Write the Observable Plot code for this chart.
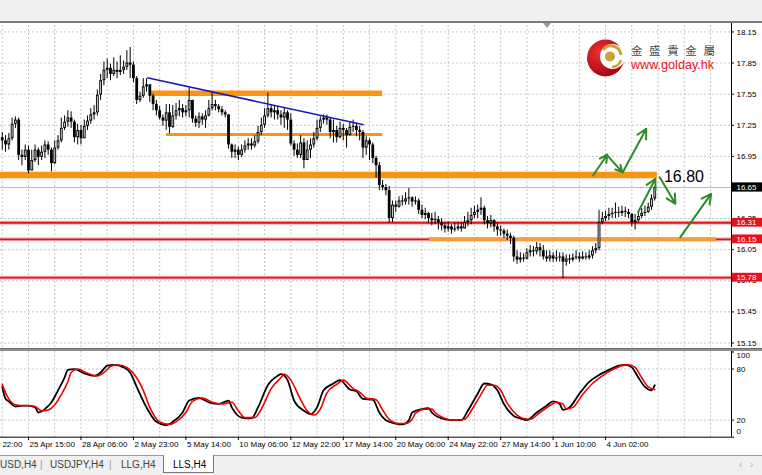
<!DOCTYPE html>
<html><head><meta charset="utf-8">
<script src="https://cdn.jsdelivr.net/npm/d3@7"></script>
<script src="https://cdn.jsdelivr.net/npm/@observablehq/plot@0.6"></script>
<style>
body{margin:0;background:#fff;}
#wrap{position:relative;width:762px;height:475px;overflow:hidden;background:#fff;font-family:"Liberation Sans",Arial,sans-serif;}
.abs{position:absolute;}
#topbar{left:0;top:0;width:762px;height:21px;background:#f0f0f0;}
#topline{left:0;top:21px;width:762px;height:2px;background:#7c7c7c;}
#sep{left:0;top:348px;width:762px;height:3px;background:#8e8e8e;border-top:1px solid #6a6a6a;box-sizing:border-box;}
#tabs{left:0;top:455px;width:762px;height:20px;background:#f0f0f0;border-top:1px solid #9a9a9a;box-sizing:border-box;font-size:10px;color:#444;}
#tabs span{position:absolute;top:3px;white-space:nowrap;}
#active{position:absolute;left:163px;top:-1px;width:49px;height:17px;background:#fff;border:1px solid #777;border-top:none;}
svg{overflow:visible;}
</style></head>
<body><div id="wrap">
<div id="topbar" class="abs"></div>
<div id="plots"></div>
<div id="topline" class="abs"></div>
<div id="sep" class="abs"></div>
<div id="tabs" class="abs">
  <span style="left:0px">USD,H4</span>
  <span style="left:40px;color:#999">|</span>
  <span style="left:50px">USDJPY,H4</span>
  <span style="left:109px;color:#999">|</span>
  <span style="left:121px">LLG,H4</span>
  <div id="active"></div>
  <span style="left:173px;color:#000">LLS,H4</span>
  <span style="left:739px;color:#b0b0b0">‹</span>
  <span style="left:750px;color:#b0b0b0">›</span>
</div>
<svg class="abs" style="left:0;top:0" width="762" height="90">
  <defs>
    <radialGradient id="rg" cx="35%" cy="35%" r="75%">
      <stop offset="0" stop-color="#f03030"/><stop offset="1" stop-color="#9a0010"/>
    </radialGradient>
  </defs>
  <polygon points="543,23 551,23 547,28" fill="#9a9a9a"/>
  <circle cx="605.5" cy="58" r="18.5" fill="url(#rg)"/>
  <circle cx="612.5" cy="56.5" r="12.5" fill="#fff"/>
  <path d="M603 50 A 10 10 0 0 1 621 55" fill="none" stroke="#c9a23a" stroke-width="3"/>
  <path d="M621 60 A 10 10 0 0 1 612 67" fill="none" stroke="#c9a23a" stroke-width="2.5"/>
  <circle cx="610" cy="56.5" r="5" fill="#c9a23a"/>
  <text x="631" y="55" font-family="Noto Sans CJK TC" font-size="11.5" fill="#4a4a4a" letter-spacing="6.6">金盛貴金屬</text>
  <text x="631" y="69" font-family="Liberation Sans, Arial" font-size="12.6" fill="#e8101e">www.golday.hk</text>
</svg>
</div>
<script>
// ---------------- data ----------------
const firstBar = -8;
const firstOpen = 17.13;
const close = [
17.10,17.06,17.12,17.26,17.30,16.96,16.94,17.01,
16.81,16.91,17.01,16.94,16.99,17.06,17.01,16.88,17.03,17.10,
17.22,17.28,17.32,17.28,17.13,17.20,17.12,17.24,17.29,17.35,
17.37,17.54,17.68,17.78,17.80,17.74,17.78,17.76,17.78,17.81,
17.85,17.83,17.70,17.49,17.53,17.62,17.64,17.53,17.45,17.39,
17.32,17.29,17.37,17.23,17.34,17.39,17.41,17.37,17.39,17.49,
17.31,17.27,17.33,17.30,17.34,17.41,17.45,17.43,17.40,17.37,
17.35,17.06,16.99,17.01,16.96,17.01,17.05,17.07,17.05,17.09,
17.18,17.25,17.34,17.41,17.37,17.39,17.35,17.32,17.37,17.30,
17.07,17.01,16.96,17.08,16.91,17.01,17.06,17.12,17.22,17.30,
17.32,17.30,17.18,17.20,17.13,17.22,17.20,17.15,17.23,17.24,
17.20,17.18,17.03,17.10,17.06,16.93,16.86,16.67,16.65,16.62,
16.35,16.48,16.46,16.52,16.51,16.54,16.55,16.51,16.52,16.43,
16.38,16.40,16.35,16.33,16.34,16.31,16.28,16.25,16.27,16.24,
16.25,16.27,16.25,16.31,16.33,16.38,16.41,16.43,16.45,16.33,
16.30,16.33,16.27,16.24,16.23,16.20,16.18,16.16,15.98,15.95,
15.97,15.96,16.02,16.04,16.03,16.07,16.04,15.98,15.96,15.99,
15.96,15.97,15.98,15.93,15.96,15.95,15.97,15.98,15.96,15.98,
15.97,15.99,16.04,16.06,16.31,16.35,16.37,16.39,16.40,16.41,
16.40,16.42,16.41,16.39,16.31,16.33,16.37,16.40,16.41,16.46,
16.54,16.65];
const high = [
17.18,17.15,17.17,17.32,17.33,17.32,17.01,17.06,
17.05,17.01,17.06,17.03,17.05,17.10,17.09,17.03,17.10,17.15,
17.32,17.34,17.39,17.38,17.30,17.26,17.25,17.30,17.34,17.41,
17.44,17.59,17.74,17.86,17.89,17.84,17.90,17.86,17.92,17.87,
17.97,18.00,17.86,17.72,17.57,17.70,17.70,17.64,17.55,17.49,
17.43,17.35,17.45,17.45,17.44,17.46,17.49,17.45,17.44,17.61,
17.49,17.34,17.37,17.36,17.39,17.49,17.57,17.49,17.45,17.43,
17.39,17.35,17.07,17.06,17.04,17.06,17.10,17.12,17.12,17.15,
17.24,17.32,17.41,17.56,17.45,17.44,17.43,17.39,17.42,17.39,
17.36,17.10,17.07,17.15,17.12,17.10,17.12,17.18,17.30,17.33,
17.35,17.35,17.32,17.30,17.24,17.28,17.26,17.22,17.28,17.30,
17.27,17.24,17.20,17.14,17.12,17.08,16.95,16.89,16.72,16.68,
16.66,16.52,16.52,16.56,16.57,16.60,16.64,16.56,16.56,16.54,
16.48,16.45,16.41,16.40,16.41,16.37,16.35,16.31,16.32,16.29,
16.31,16.31,16.31,16.37,16.41,16.45,16.47,16.48,16.55,16.47,
16.37,16.38,16.34,16.31,16.28,16.25,16.24,16.21,16.18,16.04,
16.02,16.01,16.06,16.09,16.08,16.12,16.11,16.09,16.04,16.04,
16.02,16.04,16.02,16.02,16.00,16.00,16.01,16.04,16.02,16.03,
16.02,16.04,16.08,16.11,16.43,16.41,16.42,16.45,16.45,16.50,
16.46,16.47,16.46,16.44,16.40,16.39,16.41,16.45,16.47,16.50,
16.58,16.66];
const low = [
17.01,16.99,17.01,17.10,17.22,16.91,16.86,16.91,
16.78,16.83,16.89,16.86,16.91,16.93,16.96,16.80,16.87,17.01,
17.08,17.20,17.23,17.22,17.08,17.06,17.06,17.15,17.20,17.26,
17.30,17.34,17.49,17.63,17.70,17.68,17.72,17.70,17.73,17.74,
17.78,17.70,17.66,17.45,17.47,17.51,17.57,17.47,17.39,17.34,
17.30,17.24,17.20,17.17,17.22,17.30,17.33,17.32,17.33,17.32,
17.27,17.23,17.22,17.25,17.22,17.33,17.39,17.39,17.37,17.34,
17.32,17.02,16.93,16.93,16.91,16.94,16.98,17.01,17.01,17.03,
17.07,17.15,17.22,17.32,17.32,17.30,17.30,17.25,17.22,17.20,
17.05,16.95,16.93,16.93,16.83,16.91,16.93,17.03,17.10,17.18,
17.26,17.25,17.12,17.08,17.08,17.12,17.10,17.03,17.16,17.18,
17.14,17.10,16.93,16.96,16.91,16.88,16.74,16.62,16.62,16.57,
16.31,16.31,16.41,16.45,16.47,16.48,16.48,16.46,16.48,16.39,
16.35,16.34,16.30,16.28,16.29,16.24,16.23,16.21,16.22,16.20,
16.22,16.23,16.22,16.25,16.27,16.29,16.35,16.35,16.38,16.29,
16.25,16.26,16.22,16.18,16.18,16.16,16.14,16.10,15.93,15.91,
15.92,15.93,15.95,15.98,15.98,16.00,15.98,15.95,15.93,15.93,
15.93,15.93,15.93,15.77,15.89,15.91,15.93,15.95,15.93,15.95,
15.95,15.95,15.96,16.01,16.04,16.29,16.32,16.33,16.35,16.35,
16.36,16.37,16.36,16.35,16.27,16.24,16.31,16.35,16.37,16.40,
16.43,16.52];

// stochastic (bar index, value)
const stochK = [[-8,59],[-7,45],[-6,42],[-4,36],[-2,37],[0,37],[2,35],[3,29],[5,33],[7,41],[9,55],[11,70],[12,79],[14,80],[17,75],[20,72],[22,76],[24,84],[26,85],[29,82],[31,76],[33,59],[36,35],[39,18],[42,14],[44,18],[47,29],[49,43],[52,46],[55,41],[58,39],[61,43],[62,35],[65,23],[68,22],[70,35],[73,61],[76,72],[77,74],[79,67],[81,43],[84,31],[86,27],[88,35],[90,55],[93,63],[95,67],[98,56],[100,54],[102,45],[105,44],[107,29],[109,20],[112,16],[114,15],[116,20],[117,29],[120,33],[122,34],[123,29],[126,22],[129,20],[132,20],[134,31],[137,51],[139,63],[141,62],[143,55],[145,39],[148,25],[150,22],[152,20],[155,29],[158,37],[160,42],[162,39],[163,32],[165,35],[168,51],[171,65],[174,73],[177,79],[180,84],[182,85],[184,82],[186,70],[188,59],[190,55],[191,61]];
const stochD = [[-8,62],[-7,52],[-6,45],[-4,38],[-2,37],[0,37],[2,36],[4,31],[6,32],[8,38],[10,50],[12,65],[13,76],[15,80],[18,75],[21,72],[23,76],[25,83],[27,85],[30,82],[32,75],[35,55],[37,35],[40,18],[43,15],[45,18],[48,29],[50,42],[53,46],[56,41],[59,39],[62,41],[64,31],[66,23],[69,23],[71,33],[74,57],[77,70],[78,74],[80,67],[83,44],[85,31],[87,26],[89,33],[91,52],[94,62],[96,67],[99,57],[101,53],[103,46],[106,44],[108,32],[110,21],[113,16],[115,16],[117,21],[118,28],[121,33],[123,33],[124,29],[127,22],[130,20],[133,21],[135,31],[138,50],[140,61],[142,61],[144,55],[146,40],[149,26],[151,22],[153,21],[156,29],[159,37],[161,41],[163,39],[164,33],[166,35],[169,50],[172,63],[175,72],[178,79],[181,84],[183,85],[185,82],[187,70],[189,59],[191,56]];

const priceTicks = [15.15,15.45,15.75,16.05,16.35,16.65,16.95,17.25,17.55,17.85,18.15];
const currentPrice = [16.65];
const redLevels = [16.31,16.15,15.78];
const orangeLevels = [16.77,17.56,17.16,16.15];
const orangeFrom = [-8.54,37.2,42.1,122.3];
const orangeTo = [191.8,108,108,209.8];
const trendFrom = [36.2,17.708];
const trendTo = [102.2,17.255];
const arrowsFrom = [[172.2,16.766],[176.5,16.959],[181.2,16.795],[185.9,16.412],[192.5,16.749],[198.8,16.171]];
const arrowsTo = [[176.5,16.968],[181.1,16.798],[188.4,17.216],[191.2,16.734],[197.3,16.493],[208.2,16.589]];
const targetLabel = ["16.80"];
const targetPos = [193.8,16.752];
const stochTicks = [100,80,20,0];
const timeLabels = ["22 Apr 22:00","25 Apr 15:00","28 Apr 06:00","2 May 23:00","5 May 14:00","10 May 06:00","12 May 22:00","17 May 14:00","20 May 06:00","24 May 22:00","27 May 14:00","1 Jun 10:00","4 Jun 02:00"];
const timeLabelBars = [-16,0,16,32,48,64,80,96,112,128,144,160,176];
const gridBars = [-8,0,8,16,24,32,40,48,56,64,72,80,88,96,104,112,120,128,136,144,152,160,168,176,184,192,200,208];

// ---------------- layout ----------------
const X_MIN = -8.54, X_MAX = 214.4;
const Y_MIN = 15.107, Y_MAX = 18.2315;
const PX_BAR = 731 / (X_MAX - X_MIN);
const VAL_PX = (Y_MAX - Y_MIN) / 324;
const FONT = "Liberation Sans, Arial, sans-serif";
const GRID = "#c6c6c6";

const bars = close.map((c, k) => {
  const o = k === 0 ? firstOpen : close[k - 1];
  return {i: firstBar + k, o, c, h: Math.max(high[k], o, c), l: Math.min(low[k], o, c)};
});
const bull = bars.filter(d => d.c - d.o > 2.2 * VAL_PX);

const orange = orangeLevels.map((v, k) => ({v, from: orangeFrom[k], to: orangeTo[k]}));
const orangeW = [6.5, 5.5, 3, 4];
const arrows = arrowsFrom.map((a, k) => ({x1: a[0], y1: a[1], x2: arrowsTo[k][0], y2: arrowsTo[k][1]}));

const mainMarks = [
  Plot.ruleX(gridBars, {x: d => d, y1: () => Y_MIN, y2: () => Y_MAX, stroke: GRID, strokeDasharray: "2,2"}),
  Plot.ruleY(priceTicks, {y: d => d, x1: () => X_MIN, x2: () => X_MAX, stroke: GRID, strokeDasharray: "2,2"}),
  Plot.ruleY(currentPrice, {y: d => d, x1: () => X_MIN, x2: () => X_MAX, stroke: "#b4bccc"}),
  Plot.ruleY(redLevels, {y: d => d, x1: () => X_MIN, x2: () => X_MAX, stroke: "#f6bcbc", strokeWidth: 4}),
  Plot.ruleY(redLevels, {y: d => d, x1: () => X_MIN, x2: () => X_MAX, stroke: "#e3121c", strokeWidth: 1.8}),
  ...orange.map((d, k) => Plot.ruleY([d], {y: "v", x1: "from", x2: "to", stroke: k === 3 ? "#f79a3a" : "#fb9414", strokeWidth: orangeW[k]})),
  Plot.ruleX(bars, {x: "i", y1: "l", y2: "h", stroke: "#000", strokeWidth: 1}),
  Plot.ruleX(bars, {x: "i", y1: "o", y2: "c", stroke: "#000", strokeWidth: 2.8}),
  Plot.ruleX(bull, {x: "i", y1: d => d.o + VAL_PX, y2: d => d.c - VAL_PX, stroke: "#d4d4d4", strokeWidth: 1}),
  Plot.link([0], {x1: () => trendFrom[0], y1: () => trendFrom[1], x2: () => trendTo[0], y2: () => trendTo[1], stroke: "#1818b8", strokeWidth: 1.6}),
  Plot.arrow(arrows, {x1: "x1", y1: "y1", x2: "x2", y2: "y2", stroke: "#2b8c2b", strokeWidth: 2, headLength: 8, headAngle: 55}),
  Plot.text(targetLabel, {x: () => targetPos[0], y: () => targetPos[1], text: d => d, textAnchor: "start", fontSize: 16, fontFamily: FONT, fill: "#000"}),
  // right axis
  Plot.ruleX([X_MAX], {x: d => d, y1: () => Y_MIN, y2: () => Y_MAX + 1 * VAL_PX, stroke: "#000"}),
  Plot.ruleY(priceTicks, {y: d => d, x1: () => X_MAX, x2: () => X_MAX + 3 / PX_BAR, stroke: "#000"}),
  Plot.text(priceTicks, {x: () => X_MAX, y: d => d, text: d => d.toFixed(2), dx: 5, textAnchor: "start", fontSize: 8, fontFamily: FONT, fill: "#000"}),
  Plot.rect(currentPrice, {x1: () => X_MAX + 0.3, x2: () => X_MAX + 31 / PX_BAR, y1: d => d - 4.6 * VAL_PX, y2: d => d + 4.6 * VAL_PX, fill: "#000"}),
  Plot.rect(redLevels, {x1: () => X_MAX + 0.3, x2: () => X_MAX + 31 / PX_BAR, y1: d => d - 4.4 * VAL_PX, y2: d => d + 4.4 * VAL_PX, fill: "#e3121c"}),
  Plot.text([...currentPrice, ...redLevels], {x: () => X_MAX, y: d => d, text: d => d.toFixed(2), dx: 5, textAnchor: "start", fontSize: 8, fontFamily: FONT, fill: "#fff"})
];

const main = Plot.plot({
  width: 762, height: 350, margin: 0,
  style: {background: "transparent", fontFamily: FONT, fontSize: "8px", overflow: "visible"},
  x: {domain: [X_MIN, X_MAX], range: [0, 731], axis: null},
  y: {domain: [Y_MIN, Y_MAX], range: [347, 23], axis: null},
  marks: mainMarks
});
main.style.position = "absolute"; main.style.left = "0px"; main.style.top = "0px";

const stoch = Plot.plot({
  width: 762, height: 104, margin: 0,
  style: {background: "transparent", fontFamily: FONT, fontSize: "8px", overflow: "visible"},
  x: {domain: [X_MIN, X_MAX], range: [0, 731], axis: null},
  y: {domain: [0, 100], range: [88.7, 3.5], axis: null},
  marks: [
    Plot.ruleX(gridBars, {x: d => d, y1: () => 0, y2: () => 102, stroke: GRID, strokeDasharray: "2,2"}),
    Plot.ruleY([80, 20], {y: d => d, x1: () => X_MIN, x2: () => X_MAX, stroke: GRID, strokeDasharray: "2,2"}),
    Plot.line(stochK, {x: d => d[0], y: d => d[1], stroke: "#000", strokeWidth: 1.8, curve: "monotone-x"}),
    Plot.line(stochD, {x: d => d[0], y: d => d[1], stroke: "#f00000", strokeWidth: 1.6, curve: "monotone-x"}),
    Plot.ruleY([0], {y: d => d, x1: () => X_MIN, x2: () => X_MAX, stroke: "#000"}),
    Plot.ruleX([X_MAX], {x: d => d, y1: () => 0, y2: () => 102, stroke: "#000"}),
    Plot.ruleY(stochTicks, {y: d => d, x1: () => X_MAX, x2: () => X_MAX + 3 / PX_BAR, stroke: "#000"}),
    Plot.text(stochTicks.slice(0, 1), {x: () => X_MAX, y: d => d, text: d => String(d), dx: 5, dy: 3.5, textAnchor: "start", fontSize: 8, fontFamily: FONT}),
    Plot.text(stochTicks.slice(1, 3), {x: () => X_MAX, y: d => d, text: d => String(d), dx: 5, dy: 0.5, textAnchor: "start", fontSize: 8, fontFamily: FONT}),
    Plot.text(stochTicks.slice(3), {x: () => X_MAX, y: d => d, text: d => String(d), dx: 5, dy: -5.5, textAnchor: "start", fontSize: 8, fontFamily: FONT}),
    Plot.ruleX(timeLabelBars, {x: d => d, y1: () => 0, y2: () => -4, stroke: "#000"}),
    Plot.text(timeLabels, {x: (d, k) => timeLabelBars[k], y: () => 0, text: d => d, dx: 1, dy: 7.5, textAnchor: "start", fontSize: 8, fontFamily: FONT, fill: "#000"})
  ]
});
stoch.style.position = "absolute"; stoch.style.left = "0px"; stoch.style.top = "348px";

const holder = document.getElementById("plots");
holder.appendChild(main);
holder.appendChild(stoch);
</script>
</body></html>
